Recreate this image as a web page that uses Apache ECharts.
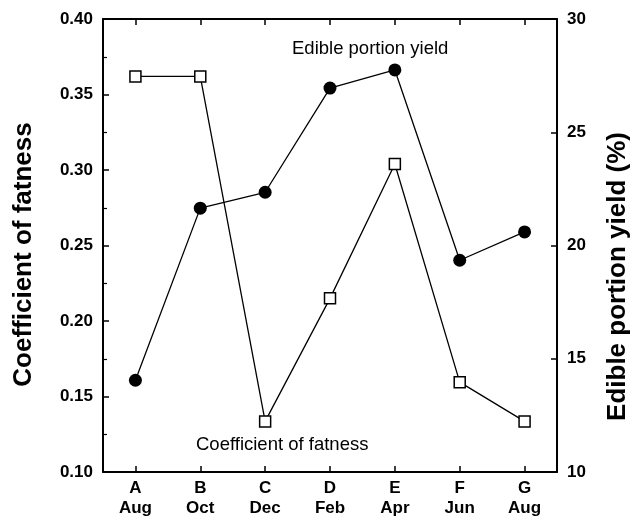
<!DOCTYPE html>
<html>
<head>
<meta charset="utf-8">
<script src="https://cdn.jsdelivr.net/npm/echarts@6/dist/echarts.min.js"></script>
<style>
html,body{margin:0;padding:0;background:#fff;}
#chart{width:643px;height:523px;}
</style>
</head>
<body>
<div id="chart"></div>
<script>
var letters = ['A','B','C','D','E','F','G'];
var months = ['Aug','Oct','Dec','Feb','Apr','Jun','Aug'];
var fatness = [0.362, 0.362, 0.1335, 0.215, 0.304, 0.1595, 0.1335];
var ediblePortion = [14.05, 21.65, 22.35, 26.95, 27.75, 19.35, 20.6];
var leftTicks = [0.10, 0.15, 0.20, 0.25, 0.30, 0.35, 0.40];
var rightTicks = [10, 15, 20, 25, 30];

var categories = letters.map(function(l, i){ return l + '\n' + months[i]; });
var FONT = '"Liberation Sans", Arial, sans-serif';

var chart = echarts.init(document.getElementById('chart'), null, {renderer:'canvas'});
var option = {
  animation: false,
  backgroundColor: '#fff',
  grid: {left: 103, right: 86, top: 19, bottom: 51, containLabel: false},
  xAxis: [{
    type: 'category',
    data: categories,
    boundaryGap: true,
    position: 'bottom',
    axisLine: {show: true, lineStyle: {color: '#000', width: 2}},
    axisTick: {show: true, inside: true, alignWithLabel: true, length: 6, lineStyle: {color: '#000', width: 1.5}},
    axisLabel: {color: '#000', fontFamily: FONT, fontWeight: 'bold', fontSize: 17, lineHeight: 20, margin: 6, interval: 0},
    splitLine: {show: false}
  }, {
    type: 'category',
    data: categories,
    boundaryGap: true,
    position: 'top',
    axisLine: {show: true, lineStyle: {color: '#000', width: 2}},
    axisTick: {show: true, inside: true, alignWithLabel: true, length: 6, lineStyle: {color: '#000', width: 1.5}},
    axisLabel: {show: false},
    splitLine: {show: false}
  }],
  yAxis: [{
    type: 'value',
    min: leftTicks[0],
    max: leftTicks[leftTicks.length - 1],
    interval: 0.05,
    position: 'left',
    name: 'Coefficient of fatness',
    nameLocation: 'middle',
    nameGap: 66,
    nameTextStyle: {color: '#000', fontFamily: FONT, fontWeight: 'bold', fontSize: 26, padding: [0, 18, 0, 0]},
    axisLine: {show: true, lineStyle: {color: '#000', width: 2}},
    axisTick: {show: true, inside: true, length: 6, lineStyle: {color: '#000', width: 1.5}},
    minorTick: {show: true, splitNumber: 2, length: 4, lineStyle: {color: '#000', width: 1.2}},
    axisLabel: {color: '#000', fontFamily: FONT, fontWeight: 'bold', fontSize: 17, margin: 10,
      formatter: function(v){ return v.toFixed(2); }},
    splitLine: {show: false}
  }, {
    type: 'value',
    min: rightTicks[0],
    max: rightTicks[rightTicks.length - 1],
    interval: 5,
    position: 'right',
    name: 'Edible portion yield (%)',
    nameLocation: 'middle',
    nameGap: 61,
    nameRotate: 90,
    nameTextStyle: {color: '#000', fontFamily: FONT, fontWeight: 'bold', fontSize: 26, verticalAlign: 'middle', padding: [0, 62, 0, 0]},
    axisLine: {show: true, lineStyle: {color: '#000', width: 2}},
    axisTick: {show: true, inside: true, length: 6, lineStyle: {color: '#000', width: 1.5}},
    axisLabel: {color: '#000', fontFamily: FONT, fontWeight: 'bold', fontSize: 17, margin: 10},
    splitLine: {show: false}
  }],
  series: [{
    name: 'Coefficient of fatness',
    type: 'line',
    xAxisIndex: 0,
    yAxisIndex: 0,
    data: fatness,
    symbol: 'rect',
    symbolSize: 11,
    showAllSymbol: true,
    lineStyle: {color: '#000', width: 1.3},
    itemStyle: {color: '#fff', borderColor: '#000', borderWidth: 1.5},
    z: 3
  }, {
    name: 'Edible portion yield',
    type: 'line',
    xAxisIndex: 0,
    yAxisIndex: 1,
    data: ediblePortion,
    symbol: 'circle',
    symbolSize: 13,
    showAllSymbol: true,
    lineStyle: {color: '#000', width: 1.3},
    itemStyle: {color: '#000', borderColor: '#000', borderWidth: 0},
    z: 4
  }],
  graphic: [{
    type: 'text',
    left: 292,
    top: 39,
    style: {text: 'Edible portion yield', fill: '#000', font: '18.5px ' + FONT}
  }, {
    type: 'text',
    left: 196,
    top: 435,
    style: {text: 'Coefficient of fatness', fill: '#000', font: '18.5px ' + FONT}
  }]
};
chart.setOption(option);
</script>
</body>
</html>
